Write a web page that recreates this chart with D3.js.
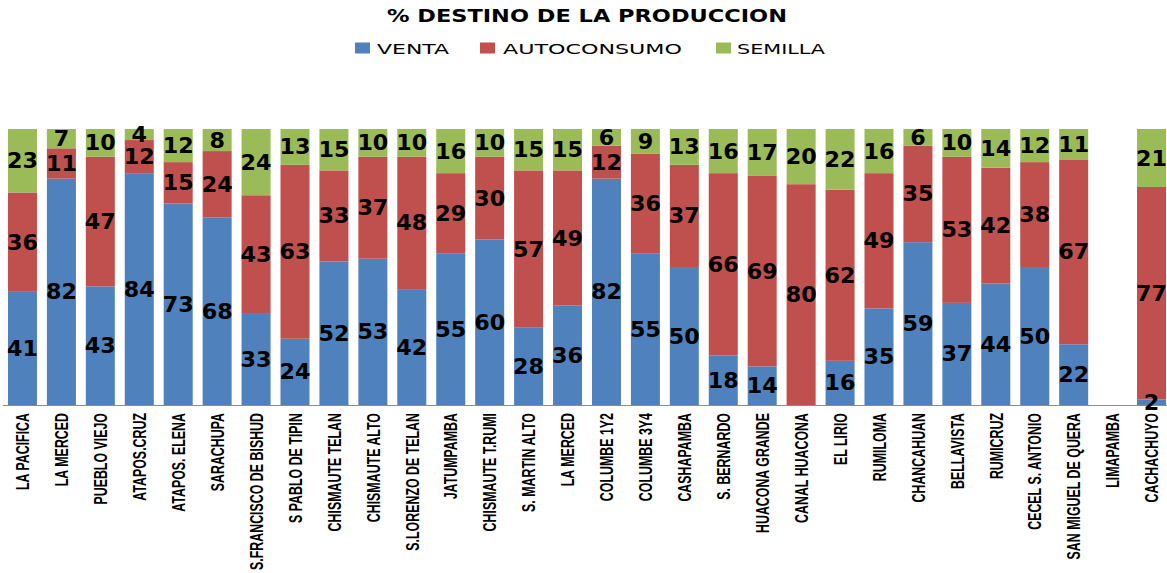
<!DOCTYPE html>
<html>
<head>
<meta charset="utf-8">
<script src="https://cdn.jsdelivr.net/npm/d3@7"></script>
<style>
  body { margin: 0; background: #fff; }
  svg { display: block; }
</style>
</head>
<body>
<div id="chart"></div>
<script>
// categories (two communities share the name LA MERCED)
const communities = [
  'LA PACIFICA', 'LA MERCED', 'PUEBLO VIEJO', 'ATAPOS.CRUZ', 'ATAPOS. ELENA',
  'SARACHUPA', 'S.FRANCISCO DE BISHUD', 'S PABLO DE TIPIN', 'CHISMAUTE TELAN', 'CHISMAUTE ALTO',
  'S.LORENZO DE TELAN', 'JATUMPAMBA', 'CHISMAUTE T.RUMI', 'S. MARTIN ALTO', 'LA MERCED',
  'COLUMBE 1Y2', 'COLUMBE 3Y4', 'CASHAPAMBA', 'S. BERNARDO', 'HUACONA GRANDE',
  'CANAL HUACONA', 'EL LIRIO', 'RUMILOMA', 'CHANCAHUAN', 'BELLAVISTA',
  'RUMICRUZ', 'CECEL S. ANTONIO', 'SAN MIGUEL DE QUERA', 'LIMAPAMBA', 'CACHACHUYO'
];

const venta       = [41, 82, 43, 84, 73, 68, 33, 24, 52, 53, 42, 55, 60, 28, 36, 82, 55, 50, 18, 14, 0, 16, 35, 59, 37, 44, 50, 22, 0, 2];
const autoconsumo = [36, 11, 47, 12, 15, 24, 43, 63, 33, 37, 48, 29, 30, 57, 49, 12, 36, 37, 66, 69, 80, 62, 49, 35, 53, 42, 38, 67, 0, 77];
const semilla     = [23, 7, 10, 4, 12, 8, 24, 13, 15, 10, 10, 16, 10, 15, 15, 6, 9, 13, 16, 17, 20, 22, 16, 6, 10, 14, 12, 11, 0, 21];

const seriesNames = ['VENTA', 'AUTOCONSUMO', 'SEMILLA'];
const seriesColors = ['#4F81BD', '#C0504D', '#9BBB59'];

const width = 1167, height = 573;
const plotTop = 129, plotBottom = 405;

const svg = d3.select('#chart').append('svg')
  .attr('width', width)
  .attr('height', height);

// table for d3.stack
const rows = communities.map((name, i) => ({
  idx: i,
  name: name,
  VENTA: venta[i],
  AUTOCONSUMO: autoconsumo[i],
  SEMILLA: semilla[i]
}));

const x = d3.scaleBand()
  .domain(rows.map(d => d.idx))
  .range([3, 1171])
  .paddingInner(0.255)
  .paddingOuter(0.1275);

const y = d3.scaleLinear().domain([0, 100]).range([plotBottom, plotTop]);

const stacked = d3.stack().keys(seriesNames)(rows);

// bars
const layers = svg.append('g').selectAll('g')
  .data(stacked)
  .join('g')
  .attr('fill', (d, i) => seriesColors[i]);

layers.selectAll('rect')
  .data(d => d)
  .join('rect')
  .attr('x', d => x(d.data.idx))
  .attr('width', x.bandwidth())
  .attr('y', d => y(d[1]))
  .attr('height', d => y(d[0]) - y(d[1]));

// axis line
svg.append('line')
  .attr('x1', 3).attr('x2', width)
  .attr('y1', plotBottom + 0.5).attr('y2', plotBottom + 0.5)
  .attr('stroke', '#8c8c8c')
  .attr('stroke-width', 1.2);

// data labels
const labels = svg.append('g')
  .attr('font-family', 'DejaVu Sans')
  .attr('font-weight', 'bold')
  .attr('font-size', 21)
  .attr('fill', '#000')
  .attr('text-anchor', 'middle');

stacked.forEach(layer => {
  labels.selectAll(null)
    .data(layer.filter(d => d[1] - d[0] > 0))
    .join('text')
    .attr('x', d => x(d.data.idx) + x.bandwidth() / 2)
    .attr('y', d => y((d[0] + d[1]) / 2))
    .attr('dy', '0.36em')
    .attr('transform', d => {
      const cx = x(d.data.idx) + x.bandwidth() / 2;
      return `translate(${cx},0) scale(1.06,1) translate(${-cx},0)`;
    })
    .text(d => d[1] - d[0]);
});

// category labels, rotated
const xl = svg.append('g')
  .attr('font-family', 'Liberation Sans, Arial, sans-serif')
  .attr('font-weight', 'bold')
  .attr('font-size', 12.4)
  .attr('fill', '#000')
  .attr('text-anchor', 'end');

xl.selectAll('text')
  .data(rows)
  .join('text')
  .attr('transform', d => `translate(${x(d.idx) + x.bandwidth() / 2},413) scale(1.5,1) rotate(-90)`)
  .attr('dy', '0.36em')
  .text(d => d.name);

// title
svg.append('text')
  .attr('x', 587)
  .attr('y', 21.7)
  .attr('text-anchor', 'middle')
  .attr('font-family', 'DejaVu Sans')
  .attr('font-weight', 'bold')
  .attr('font-size', 18)
  .attr('textLength', 400)
  .attr('lengthAdjust', 'spacingAndGlyphs')
  .text('% DESTINO DE LA PRODUCCION');

// legend
const legendItems = [
  { name: seriesNames[0], sx: 355, tx: 377, tw: 72 },
  { name: seriesNames[1], sx: 480, tx: 503, tw: 179 },
  { name: seriesNames[2], sx: 716, tx: 737, tw: 88 }
];

const legend = svg.append('g');
legendItems.forEach((it, i) => {
  legend.append('rect')
    .attr('x', it.sx).attr('y', 42.5)
    .attr('width', 15).attr('height', 11)
    .attr('fill', seriesColors[i]);
  legend.append('text')
    .attr('x', it.tx).attr('y', 53.5)
    .attr('font-family', 'DejaVu Sans')
    .attr('font-size', 14.5)
    .attr('textLength', it.tw)
    .attr('lengthAdjust', 'spacingAndGlyphs')
    .attr('fill', '#000')
    .text(it.name);
});
</script>
</body>
</html>
